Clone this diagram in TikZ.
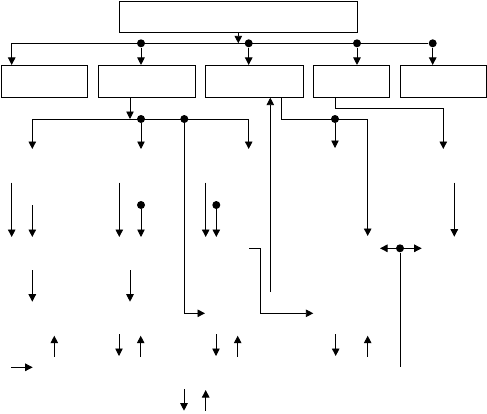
\documentclass[tikz,border=0pt]{standalone}
\usetikzlibrary{positioning,arrows.meta}
\tikzset{
  box/.style={draw, rectangle, inner sep=0pt, outer sep=0pt},
  arr/.style={-{Triangle[width=7.5pt,length=7.5pt]}},
  dot/.style={circle, fill, inner sep=0pt, minimum size=8pt},
}
\begin{document}
\begin{tikzpicture}[x=1pt, y=-1pt, line width=0.9pt]
  \useasboundingbox (0,0) rectangle (487,413);
  % head box and the row of five boxes
  \node[box, minimum width=238pt, minimum height=31.7pt] (head) at (238.3,16.8) {};
  \node[box, minimum width=86.3pt, minimum height=32.7pt] (b1) at (44.2,81.3) {};
  \node[box, minimum width=97.3pt, minimum height=32.7pt, right=10.6pt of b1] (b2) {};
  \node[box, minimum width=97.3pt, minimum height=32.7pt, right=10.6pt of b2] (b3) {};
  \node[box, minimum width=75.7pt, minimum height=32.7pt, right=10.6pt of b3] (b4) {};
  \node[box, minimum width=86.7pt, minimum height=32.7pt, right=10.6pt of b4] (b5) {};
  % first bus: head -> row of boxes
  \coordinate (busL) at (11.7,43.3);
  \node[dot] (d1) at (141,43.3) {};
  \node[dot] (d2) at (248.7,43.3) {};
  \node[dot] (d3) at (357,43.3) {};
  \node[dot] (d4) at (432.7,43.3) {};
  \draw (busL) -- (d4);
  \draw[arr] (head.south) -- (head.south |- busL);
  \draw[arr] (busL) -- (busL |- b1.north);
  \foreach \d/\b in {d1/b2, d2/b3, d3/b4, d4/b5}
    \draw[arr] (\d) -- (\d |- \b.north);
  % second bus below b2
  \coordinate (bus2L) at (32.3,119);
  \coordinate (bus2R) at (248.7,119);
  \node[dot] (e1) at (141,119) {};
  \node[dot] (e2) at (184.3,119) {};
  \draw[arr] ([xshift=-16.6pt]b2.south) -- ([xshift=-16.6pt]b2.south |- bus2L);
  \draw (bus2L) -- (bus2R);
  \coordinate (t1) at (32.3,149);
  \coordinate (t2) at (141,149);
  \coordinate (t3) at (248.7,149);
  \coordinate (t4) at (205,313.3);
  \draw[arr] (bus2L) -- (t1);
  \draw[arr] (e1) -- (t2);
  \draw[arr] (bus2R) -- (t3);
  \draw[arr] (e2) |- (t4);
  % out of b3 and b4
  \coordinate (k1) at (367.7,119);
  \coordinate (k2) at (367.7,236);
  \node[dot] (f1) at (335,119) {};
  \coordinate (k3) at (335,148);
  \draw[arr] ([xshift=27.2pt]b3.south) |- (k1) -- (k2);
  \draw[arr] (f1) -- (k3);
  \coordinate (m1) at (443.3,108.3);
  \coordinate (m2) at (443.3,149);
  \draw[arr] ([xshift=-16.6pt]b4.south) |- (m1) -- (m2);
  % long line up into b3
  \coordinate (u1) at (270.3,292);
  \draw[arr] (u1) -- (u1 |- b3.south);
  % bracket going right
  \coordinate (h1) at (249,248.3);
  \coordinate (h2) at (260.7,248.3);
  \coordinate (h3) at (313.3,313.3);
  \draw[arr] (h1) -- (h2) |- (h3);
  % double arrow with stem
  \node[dot] (g) at (400,248.3) {};
  \coordinate (gL) at (380,248.3);
  \coordinate (gR) at (421.7,248.3);
  \coordinate (gB) at (400,366.7);
  \draw[arr] (g) -- (gL);
  \draw[arr] (g) -- (gR);
  \draw (g) -- (gB);
  % dotted starts
  \node[dot] (p1) at (141,205) {};
  \node[dot] (p2) at (216.3,205) {};
  \coordinate (q1) at (141,237);
  \coordinate (q2) at (216.3,237);
  \draw[arr] (p1) -- (q1);
  \draw[arr] (p2) -- (q2);
  % free arrows: start x/y -> tip x/y
  \foreach \i/\xa/\ya/\xb/\yb in {1/11.7/182.7/11.7/237, 2/32.3/205/32.3/237,
      3/119.3/182.7/119.3/237, 4/205.7/182.7/205.7/237, 5/454.3/182.7/454.3/236.7,
      6/32.3/270/32.3/301.7, 7/130/270/130/301.7, 8/54.3/356.7/54.3/335.7,
      9/119/334.3/119/356, 10/140.7/356.7/140.7/335.7, 11/216/334.3/216/356,
      12/237.7/356.7/237.7/335.7, 13/335.7/334.3/335.7/356, 14/367.7/356.7/367.7/335.7,
      15/11/367.3/32.7/367.3, 16/184/389/184/410.7, 17/205.7/410.7/205.7/390} {
    \coordinate (s\i) at (\xa,\ya);
    \coordinate (e\i) at (\xb,\yb);
    \draw[arr] (s\i) -- (e\i);
  }
\end{tikzpicture}
\end{document}
